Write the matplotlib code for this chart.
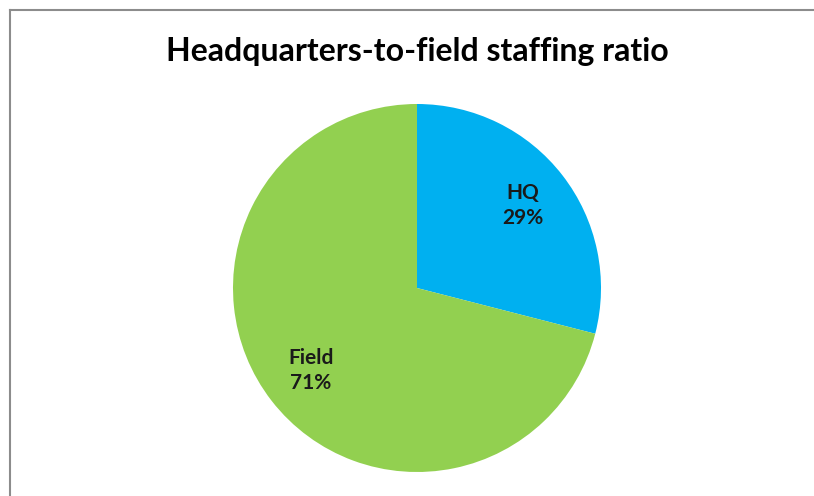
import numpy as np
import matplotlib.pyplot as plt
from matplotlib.lines import Line2D

labels = ['HQ', 'Field']
shares = [29, 71]
colors = ['#00B0F0', '#92D050']

W, H = 814, 496

fig = plt.figure(figsize=(W / 100, H / 100), dpi=100)
fig.patch.set_facecolor('white')

# chart frame (only left and top edges are visible)
fig.add_artist(Line2D([10 / W, 10 / W], [0, 1 - 10 / H], color='#8c8c8c', lw=1.5))
fig.add_artist(Line2D([10 / W, 1], [1 - 10 / H, 1 - 10 / H], color='#8c8c8c', lw=1.5))

# pie box in pixels: x 233..601, y 104..472
ax = fig.add_axes([233 / W, (H - 472) / H, 368 / W, 368 / H])

wedges = ax.pie(shares, colors=colors, startangle=90, counterclock=False,
                radius=1, wedgeprops=dict(linewidth=0))[0]
for w, lab, val in zip(wedges, labels, shares):
    ang = np.deg2rad((w.theta1 + w.theta2) / 2)
    ax.text(0.73 * np.cos(ang), 0.73 * np.sin(ang), f'{lab}\n{val}%',
            ha='center', va='center', fontsize=15, fontweight='bold',
            family='Lato', color='#1a1a1a', linespacing=1.3)
ax.set_xlim(-1, 1)
ax.set_ylim(-1, 1)
ax.set_aspect('equal')

fig.text(417 / W, 1 - 52 / H, 'Headquarters-to-field staffing ratio', ha='center', va='center',
         fontsize=23, fontweight='bold', family='Lato', color='black')

fig.savefig('out.png', dpi=100)
